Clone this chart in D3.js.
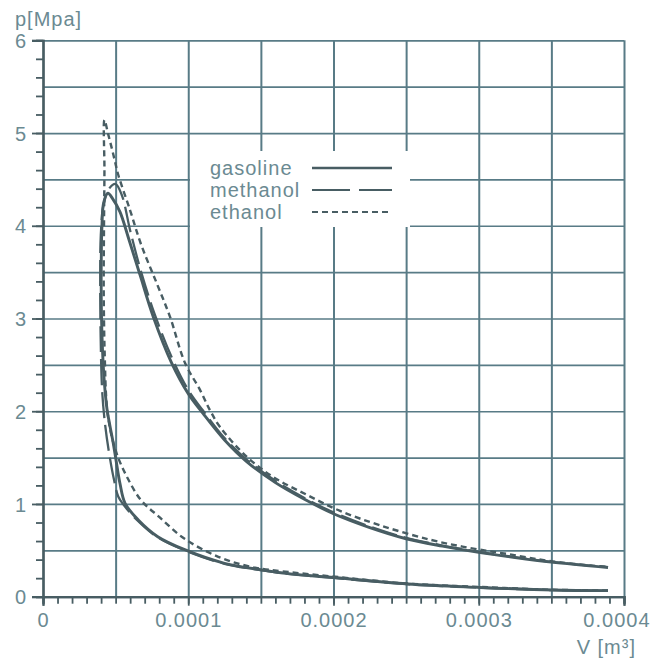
<!DOCTYPE html>
<html>
<head>
<meta charset="utf-8">
<script src="https://cdn.jsdelivr.net/npm/d3@7"></script>
<style>
  body { margin: 0; background: #fff; }
  svg text { font-family: "Liberation Sans", Arial, sans-serif; fill: #6b8a92; letter-spacing: 1px; }
</style>
</head>
<body>
<svg id="chart" width="652" height="664"></svg>
<script>
// Cylinder volume (m³) and pressure (MPa) along each cycle:
// compression from bottom dead centre, combustion near TDC, expansion back out.
const gasolineV = [3.89e-4, 3.51e-4, 3.01e-4, 2.51e-4, 1.98e-4, 1.67e-4, 1.51e-4, 1.25e-4, 0.98e-4, 0.79e-4,
  0.656e-4, 0.565e-4, 0.53e-4, 0.505e-4, 0.482e-4, 0.46e-4, 0.44e-4, 0.423e-4, 0.41e-4, 0.402e-4,
  0.401e-4, 0.406e-4, 0.418e-4, 0.447e-4, 0.48e-4, 0.53e-4, 0.59e-4, 0.668e-4, 0.759e-4, 0.886e-4,
  1.0e-4, 1.1e-4, 1.25e-4, 1.4e-4, 1.6e-4, 1.8e-4, 2.0e-4, 2.25e-4, 2.5e-4, 2.75e-4,
  3.0e-4, 3.25e-4, 3.5e-4, 3.89e-4];
const gasolineP = [0.065, 0.072, 0.10, 0.137, 0.209, 0.252, 0.288, 0.36, 0.504, 0.647,
  0.827, 1.007, 1.22, 1.45, 1.67, 1.85, 2.03, 2.30, 2.65, 3.10,
  3.60, 4.00, 4.25, 4.35, 4.29, 4.15, 3.86, 3.47, 3.02, 2.52,
  2.19, 1.98, 1.69, 1.46, 1.23, 1.05, 0.895, 0.745, 0.625, 0.545,
  0.478, 0.422, 0.373, 0.315];

const methanolV = [3.89e-4, 3.51e-4, 3.01e-4, 2.51e-4, 1.98e-4, 1.67e-4, 1.51e-4, 1.25e-4, 0.975e-4, 0.785e-4,
  0.645e-4, 0.555e-4, 0.518e-4, 0.489e-4, 0.455e-4, 0.428e-4, 0.408e-4, 0.397e-4, 0.394e-4, 0.398e-4,
  0.418e-4, 0.455e-4, 0.50e-4, 0.545e-4, 0.60e-4, 0.676e-4, 0.768e-4, 0.895e-4, 1.0e-4, 1.1e-4,
  1.25e-4, 1.4e-4, 1.6e-4, 1.8e-4, 2.0e-4, 2.25e-4, 2.5e-4, 2.75e-4, 3.0e-4, 3.25e-4,
  3.5e-4, 3.89e-4];
const methanolP = [0.063, 0.070, 0.098, 0.135, 0.205, 0.248, 0.284, 0.355, 0.50, 0.645,
  0.83, 0.99, 1.08, 1.26, 1.55, 1.85, 2.20, 2.80, 3.40, 3.90,
  4.24, 4.40, 4.45, 4.32, 3.95, 3.50, 3.05, 2.55, 2.23, 2.01,
  1.71, 1.48, 1.25, 1.065, 0.91, 0.757, 0.635, 0.552, 0.483, 0.426,
  0.376, 0.318];

const ethanolV = [3.89e-4, 3.51e-4, 3.01e-4, 2.51e-4, 1.98e-4, 1.67e-4, 1.437e-4, 1.207e-4, 0.97e-4, 0.80e-4,
  0.675e-4, 0.582e-4, 0.515e-4, 0.47e-4, 0.44e-4, 0.425e-4, 0.418e-4, 0.42e-4, 0.423e-4, 0.423e-4,
  0.45e-4, 0.473e-4, 0.496e-4, 0.518e-4, 0.599e-4, 0.675e-4, 0.783e-4, 0.874e-4, 0.978e-4, 1.081e-4,
  1.15e-4, 1.219e-4, 1.402e-4, 1.586e-4, 1.815e-4, 2.045e-4, 2.32e-4, 2.664e-4, 2.94e-4, 3.2e-4,
  3.51e-4, 3.89e-4];
const ethanolP = [0.067, 0.075, 0.105, 0.142, 0.22, 0.27, 0.32, 0.43, 0.63, 0.86,
  1.04, 1.28, 1.51, 1.75, 2.05, 2.6, 3.3, 4.0, 4.6, 5.14,
  4.98, 4.84, 4.69, 4.55, 4.17, 3.80, 3.38, 3.02, 2.52, 2.23,
  2.01, 1.83, 1.51, 1.29, 1.10, 0.925, 0.77, 0.615, 0.525, 0.46,
  0.38, 0.32];

const seriesNames = ["gasoline", "methanol", "ethanol"];
const xTickValues = [0, 0.0001, 0.0002, 0.0003, 0.0004];
const xTickLabels = ["0", "0.0001", "0.0002", "0.0003", "0.0004"];
const yTickValues = [0, 1, 2, 3, 4, 5, 6];
const yTickLabels = ["0", "1", "2", "3", "4", "5", "6"];

const ink = "#485d63";
const gridColor = "#587b86";

const svg = d3.select("#chart");
const x = d3.scaleLinear().domain([0, 0.0004]).range([43, 624]);
const y = d3.scaleLinear().domain([0, 6]).range([596.7, 40.3]);

// grid: vertical every 0.00005 m³, horizontal every 0.5 MPa
const gx = svg.append("g").attr("transform", `translate(0,${y(0)})`)
  .call(d3.axisBottom(x).tickValues(d3.range(1, 9).map(i => i * 0.00005))
    .tickSize(-(y(0) - y(6))).tickFormat(""));
gx.select(".domain").remove();
gx.selectAll("line").attr("stroke", gridColor).attr("stroke-width", 2);

const gy = svg.append("g").attr("transform", `translate(${x(0)},0)`)
  .call(d3.axisLeft(y).tickValues(d3.range(1, 13).map(i => i * 0.5))
    .tickSize(-(x(0.0004) - x(0))).tickFormat(""));
gy.select(".domain").remove();
gy.selectAll("line").attr("stroke", gridColor).attr("stroke-width", 1.7);

// legend panel sits on a white patch over the grid
svg.append("rect").attr("x", 190).attr("y", 151).attr("width", 220).attr("height", 76).attr("fill", "#fff");

// minor ticks
const minorY = svg.append("g").attr("transform", `translate(${x(0)},0)`)
  .call(d3.axisLeft(y).tickValues(d3.range(0, 31).map(i => i * 0.2)).tickSize(7).tickFormat(""));
const minorX = svg.append("g").attr("transform", `translate(0,${y(0)})`)
  .call(d3.axisBottom(x).tickValues(d3.range(0, 41).map(i => i * 0.00001)).tickSize(7).tickFormat(""));

// major ticks with labels
const axY = svg.append("g").attr("transform", `translate(${x(0)},0)`)
  .call(d3.axisLeft(y).tickValues(yTickValues).tickSize(11).tickPadding(5)
    .tickFormat((d, i) => yTickLabels[i]));
const axX = svg.append("g").attr("transform", `translate(0,${y(0)})`)
  .call(d3.axisBottom(x).tickValues(xTickValues).tickSize(9).tickPadding(6)
    .tickFormat((d, i) => xTickLabels[i]));

[minorY, minorX, axY, axX].forEach(g => {
  g.selectAll("line").attr("stroke", ink).attr("stroke-width", 1.8);
  g.select(".domain").attr("stroke", ink).attr("stroke-width", 2.2);
  g.selectAll("text").attr("font-size", 20).attr("fill", "#6b8a92")
    .attr("font-family", "Liberation Sans, Arial, sans-serif");
});
axX.selectAll("text").attr("dy", "0.75em");
axY.selectAll("text").attr("dy", "0.36em");
// keep the last volume label inside the page edge
axX.selectAll(".tick").filter(d => d === 0.0004).select("text")
  .attr("text-anchor", "end").attr("x", 26);

// axis titles
svg.append("text").attr("x", 15).attr("y", 26).attr("font-size", 20).text("p[Mpa]");
svg.append("text").attr("x", 636).attr("y", 654).attr("font-size", 20).attr("text-anchor", "end").text("V [m³]");

// cycle curves
const line = d3.line().x(d => x(d[0])).y(d => y(d[1])).curve(d3.curveCatmullRom.alpha(0.5));
const zip = (vs, ps) => vs.map((v, i) => [v, ps[i]]);

const styles = [
  { w: 2.9, dash: null },
  { w: 2.3, dash: "26,7" },
  { w: 2.4, dash: "6,4" }
];
const curves = [zip(gasolineV, gasolineP), zip(methanolV, methanolP), zip(ethanolV, ethanolP)];

// dashed curves underneath, solid gasoline curve on top
[2, 1, 0].forEach(k => {
  svg.append("path").datum(curves[k])
    .attr("d", line)
    .attr("fill", "none")
    .attr("stroke", ink)
    .attr("stroke-width", styles[k].w)
    .attr("stroke-dasharray", styles[k].dash)
    .attr("stroke-linejoin", "round");
});

// legend
const legendRows = [172, 194, 216];
seriesNames.forEach((name, k) => {
  svg.append("text").attr("x", 210).attr("y", legendRows[k] + 3).attr("font-size", 20).text(name);
  svg.append("line")
    .attr("x1", 312).attr("x2", 392)
    .attr("y1", legendRows[k] - 4).attr("y2", legendRows[k] - 4)
    .attr("stroke", ink)
    .attr("stroke-width", k === 0 ? 2.4 : 2.2)
    .attr("stroke-dasharray", k === 1 ? "38,9" : styles[k].dash);
});
</script>
</body>
</html>
